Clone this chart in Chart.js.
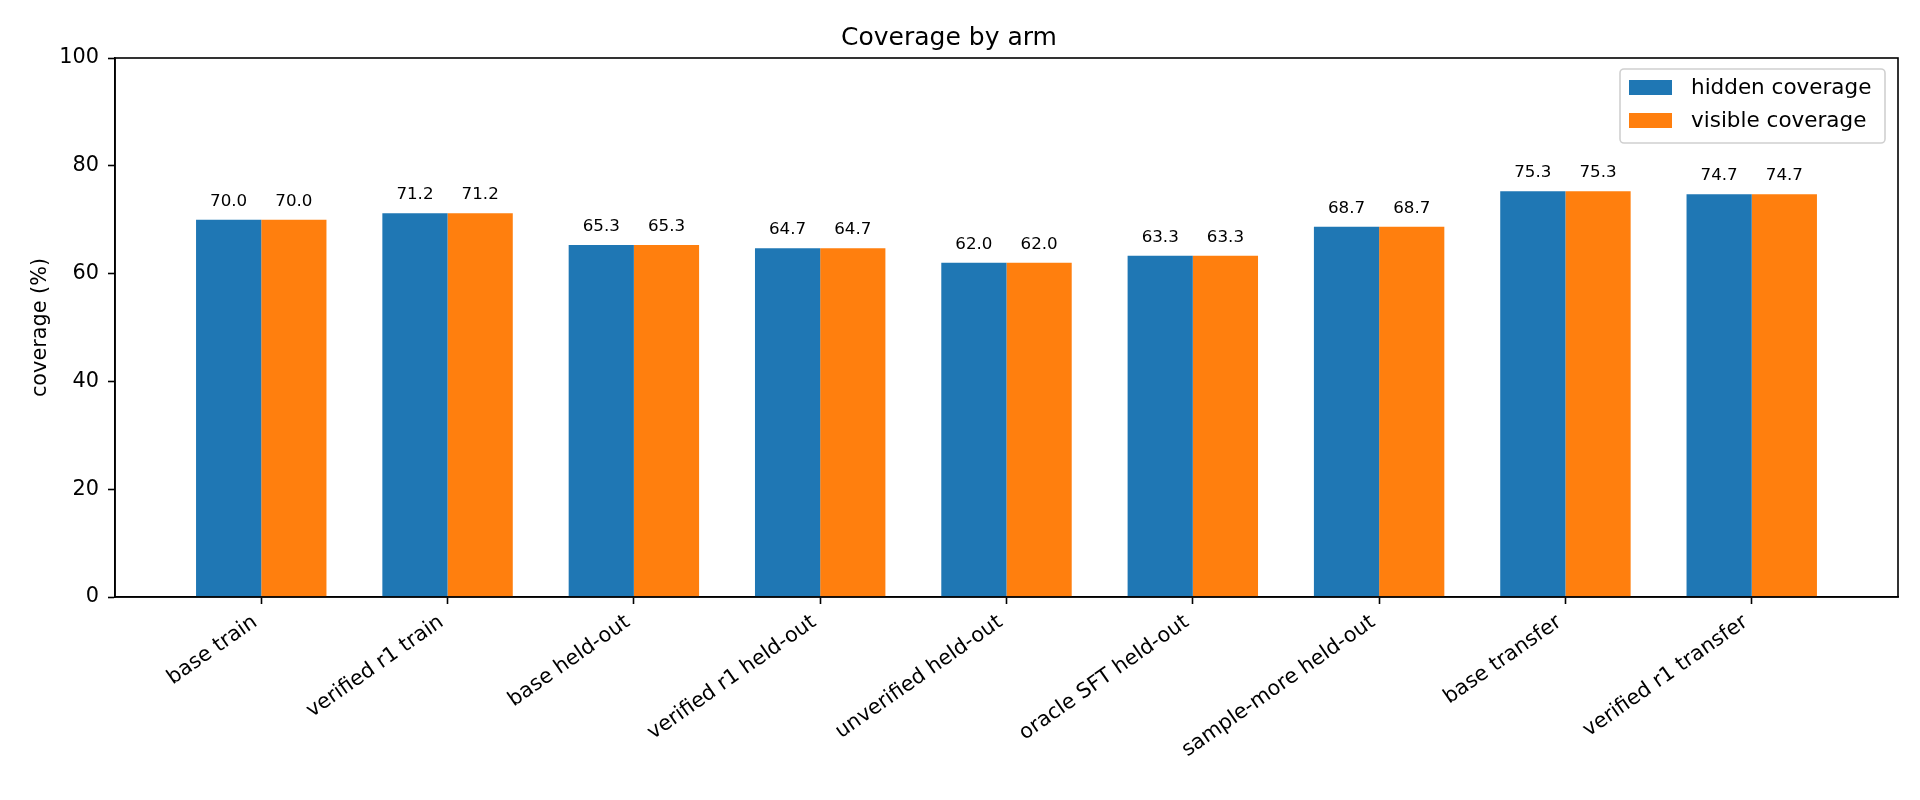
<!DOCTYPE html>
<html>
<head>
<meta charset="utf-8">
<title>Coverage by arm</title>
<script src="https://cdn.jsdelivr.net/npm/chart.js@4/dist/chart.umd.min.js"></script>
<style>
  html, body { margin: 0; padding: 0; background: #fff; }
  #wrap { width: 1920px; height: 800px; }
</style>
</head>
<body>
<div id="wrap"><canvas id="chart"></canvas></div>
<script>
// --- data ---
const arms = [
    'base train', 'verified r1 train', 'base held-out', 'verified r1 held-out',
    'unverified held-out', 'oracle SFT held-out', 'sample-more held-out',
    'base transfer', 'verified r1 transfer'
];
const hiddenCoverage = [70.0, 71.2, 65.3, 64.7, 62.0, 63.3, 68.7, 75.3, 74.7];
const visibleCoverage = [70.0, 71.2, 65.3, 64.7, 62.0, 63.3, 68.7, 75.3, 74.7];
const seriesNames = ['hidden coverage', 'visible coverage'];
const yTicks = [0, 20, 40, 60, 80, 100];

const BLUE = '#1f77b4';
const ORANGE = '#ff7f0e';
const FONT = "'DejaVu Sans', sans-serif";

// matplotlib-ish frame: top + right spines
const framePlugin = {
    id: 'frame',
    afterDraw(chart) {
        const { ctx, chartArea: a } = chart;
        ctx.save();
        ctx.strokeStyle = '#000';
        ctx.lineWidth = 1.6;
        ctx.strokeRect(a.left, a.top, a.right - a.left, a.bottom - a.top);
        ctx.restore();
    }
};

// value labels above each bar (like bar_label)
const barLabelPlugin = {
    id: 'barLabels',
    afterDatasetsDraw(chart) {
        const ctx = chart.ctx;
        ctx.save();
        ctx.font = '16.7px ' + FONT;
        ctx.fillStyle = '#000';
        ctx.textAlign = 'center';
        ctx.textBaseline = 'alphabetic';
        chart.data.datasets.forEach((ds, di) => {
            chart.getDatasetMeta(di).data.forEach((bar, i) => {
                ctx.fillText(ds.data[i].y.toFixed(1), bar.x, bar.y - 14);
            });
        });
        ctx.restore();
    }
};

// legend box in the upper right of the axes
const legendPlugin = {
    id: 'boxLegend',
    afterDraw(chart) {
        const ctx = chart.ctx;
        const a = chart.chartArea;
        const w = 265, h = 74;
        const x = a.right - 13 - w, y = a.top + 11;
        ctx.save();
        ctx.beginPath();
        ctx.roundRect(x, y, w, h, 4);
        ctx.fillStyle = 'rgba(255,255,255,0.8)';
        ctx.fill();
        ctx.strokeStyle = '#d0d0d0';
        ctx.lineWidth = 1.6;
        ctx.stroke();
        ctx.font = '21.5px ' + FONT;
        ctx.textAlign = 'left';
        ctx.textBaseline = 'middle';
        chart.data.datasets.forEach((ds, i) => {
            const rowY = y + 11 + i * 33;
            ctx.fillStyle = ds.backgroundColor;
            ctx.fillRect(x + 9, rowY, 43, 15);
            ctx.fillStyle = '#000';
            ctx.fillText(ds.label, x + 71, rowY + 8);
        });
        ctx.restore();
    }
};

const toPoints = vals => vals.map((v, i) => ({ x: i, y: v }));

new Chart(document.getElementById('chart').getContext('2d'), {
    type: 'bar',
    data: {
        datasets: [{
            label: seriesNames[0],
            data: toPoints(hiddenCoverage),
            backgroundColor: BLUE,
            categoryPercentage: 0.7,
            barPercentage: 1.0
        }, {
            label: seriesNames[1],
            data: toPoints(visibleCoverage),
            backgroundColor: ORANGE,
            categoryPercentage: 0.7,
            barPercentage: 1.0
        }]
    },
    options: {
        responsive: true,
        maintainAspectRatio: false,
        devicePixelRatio: 1,
        animation: false,
        layout: { padding: { left: 0, right: 22, top: 0, bottom: 0 } },
        plugins: {
            legend: { display: false },
            tooltip: { enabled: false },
            title: {
                display: true,
                text: 'Coverage by arm',
                color: '#000',
                font: { family: FONT, size: 25, weight: 'normal', lineHeight: 1.2 },
                padding: { top: 23, bottom: 5 }
            }
        },
        scales: {
            x: {
                type: 'linear',
                min: -0.785,
                max: 8.785,
                offset: false,
                afterFit: s => { s.height = 203; },
                afterBuildTicks: s => { s.ticks = arms.map((_, i) => ({ value: i })); },
                border: { display: true, color: '#000', width: 1.6 },
                grid: {
                    offset: false,
                    drawOnChartArea: false,
                    drawTicks: true,
                    tickLength: 7,
                    tickColor: '#000',
                    tickWidth: 1.6
                },
                ticks: {
                    autoSkip: false,
                    minRotation: 35,
                    maxRotation: 35,
                    padding: 6,
                    labelOffset: -6,
                    color: '#000',
                    font: { family: FONT, size: 20.8 },
                    callback: v => arms[v]
                }
            },
            y: {
                min: 0,
                max: 100,
                afterFit: s => { s.width = 115; },
                afterBuildTicks: s => { s.ticks = yTicks.map(v => ({ value: v })); },
                border: { display: true, color: '#000', width: 1.6 },
                grid: {
                    drawOnChartArea: false,
                    drawTicks: true,
                    tickLength: 7,
                    tickColor: '#000',
                    tickWidth: 1.6
                },
                ticks: {
                    padding: 9,
                    color: '#000',
                    font: { family: FONT, size: 20.8 }
                },
                title: {
                    display: true,
                    text: 'coverage (%)',
                    color: '#000',
                    font: { family: FONT, size: 20.8, lineHeight: 1.2 },
                    padding: { top: 28, bottom: 0 }
                }
            }
        }
    },
    plugins: [framePlugin, barLabelPlugin, legendPlugin]
});
</script>
</body>
</html>
